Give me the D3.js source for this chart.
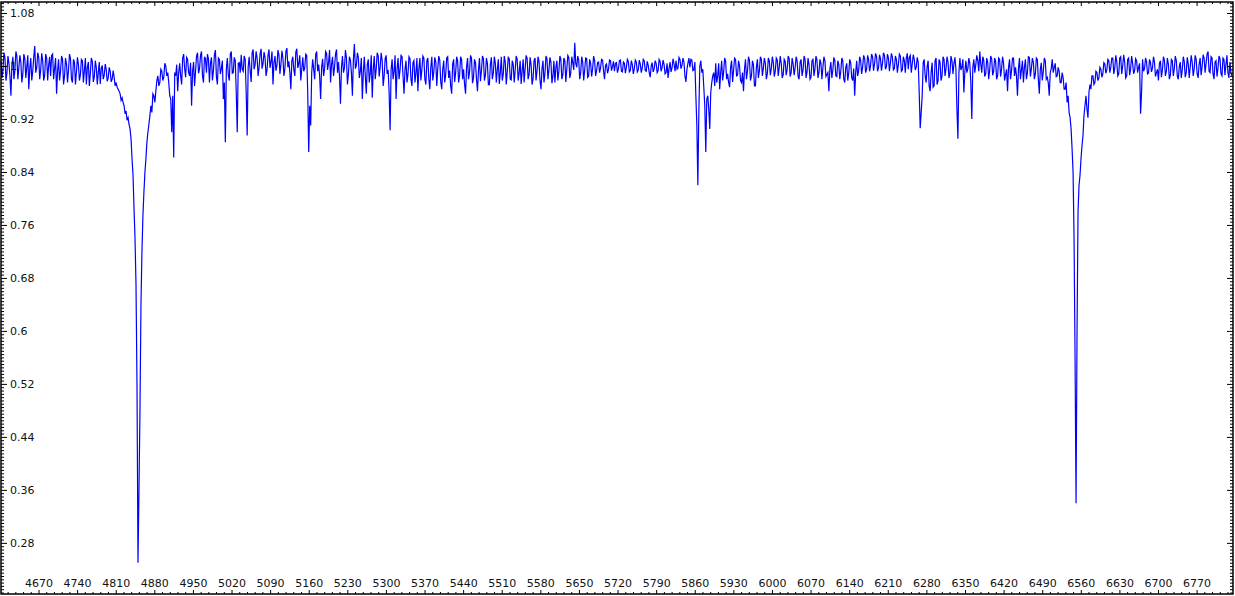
<!DOCTYPE html>
<html>
<head>
<meta charset="utf-8">
<script src="https://cdn.jsdelivr.net/npm/d3@7"></script>
<style>
  html, body { margin: 0; padding: 0; background: #ffffff; }
  svg { display: block; }
  .tick text { font-family: "DejaVu Sans", Verdana, sans-serif; font-size: 11px; fill: #111; }
</style>
</head>
<body>
<script>
// ---- data ----
const wavelengthStart = 4602;   // Å, first sample
const wavelengthStep = 1.8;     // Å between samples
const flux = [
  1.008, 0.982, 0.995, 1.020, 1.012, 0.978, 0.990, 1.015, 1.004, 0.985, 0.955, 1.002, 1.014, 0.980, 0.993, 1.022, 1.015, 0.980, 0.998, 1.016,
  1.006, 0.975, 0.988, 1.018, 1.011, 0.982, 0.999, 1.016, 0.965, 0.996, 1.012, 0.978, 0.992, 1.014, 1.030, 0.990, 0.997, 1.020, 1.013, 0.980,
  0.994, 1.019, 1.008, 0.978, 0.986, 1.018, 1.012, 0.978, 1.001, 1.014, 0.985, 1.016, 1.018, 0.980, 0.996, 1.012, 0.958, 0.992, 1.010, 0.978,
  0.992, 1.015, 1.010, 0.972, 0.985, 1.012, 1.003, 0.975, 0.994, 1.018, 1.011, 0.980, 0.975, 1.010, 1.006, 0.972, 0.991, 1.013, 1.002, 0.978,
  0.987, 1.010, 1.008, 0.975, 0.993, 1.012, 0.972, 0.998, 1.006, 0.970, 0.989, 1.012, 1.007, 0.976, 0.984, 1.008, 0.998, 0.972, 0.990, 1.006,
  0.973, 0.996, 1.001, 0.980, 0.986, 1.003, 0.995, 0.977, 0.982, 0.998, 0.992, 0.976, 0.980, 0.993, 0.983, 0.970, 0.975, 0.968, 0.965, 0.962,
  0.958, 0.948, 0.952, 0.945, 0.940, 0.928, 0.932, 0.918, 0.922, 0.912, 0.905, 0.890, 0.860, 0.835, 0.785, 0.740, 0.670, 0.520, 0.250, 0.360,
  0.480, 0.640, 0.720, 0.775, 0.810, 0.840, 0.860, 0.885, 0.900, 0.912, 0.925, 0.940, 0.930, 0.958, 0.955, 0.945, 0.962, 0.978, 0.985, 0.970,
  0.975, 0.995, 0.992, 0.978, 0.983, 1.004, 1.000, 0.985, 0.990, 0.975, 0.955, 0.950, 0.900, 0.955, 0.862, 0.990, 0.985, 1.002, 0.962, 0.990,
  1.004, 0.985, 0.972, 1.012, 1.018, 0.996, 0.983, 1.013, 1.010, 0.990, 0.985, 1.005, 0.940, 0.992, 1.006, 0.970, 0.992, 1.015, 1.020, 0.989,
  0.996, 1.016, 1.022, 0.985, 0.975, 1.014, 1.011, 0.990, 1.018, 1.010, 0.975, 1.004, 1.013, 0.978, 0.993, 1.017, 1.024, 0.984, 0.972, 1.012,
  1.010, 0.988, 0.996, 1.008, 0.950, 0.975, 0.885, 0.995, 1.012, 0.986, 0.978, 1.018, 1.022, 0.989, 0.990, 1.013, 1.008, 0.960, 0.900, 1.004,
  1.005, 0.990, 1.017, 0.995, 0.992, 1.015, 1.010, 0.960, 0.895, 0.998, 1.014, 0.993, 0.976, 1.020, 1.025, 0.995, 1.002, 1.022, 1.012, 0.985,
  0.998, 1.018, 1.026, 0.996, 1.004, 1.021, 1.013, 0.985, 0.994, 1.016, 1.025, 0.997, 1.006, 1.022, 0.972, 1.005, 1.015, 0.993, 1.001, 1.024,
  1.017, 0.988, 1.003, 1.023, 1.012, 0.985, 0.996, 1.022, 1.027, 0.998, 1.007, 0.990, 0.965, 1.008, 1.014, 0.994, 0.985, 1.021, 1.026, 0.997,
  1.004, 1.016, 0.978, 0.995, 1.013, 0.992, 0.997, 1.018, 1.016, 0.960, 0.870, 0.940, 0.910, 0.990, 1.010, 0.995, 0.980, 1.017, 1.022, 0.992,
  1.002, 0.985, 0.950, 0.998, 1.011, 0.985, 0.996, 1.022, 1.019, 0.994, 1.005, 1.024, 0.975, 1.003, 1.014, 0.985, 0.998, 1.018, 1.025, 0.990,
  1.006, 0.985, 0.943, 0.998, 1.015, 0.990, 0.997, 1.024, 1.012, 0.972, 0.988, 1.014, 1.009, 0.990, 0.955, 1.010, 1.033, 0.996, 1.001, 1.020,
  1.013, 0.982, 0.992, 1.012, 0.950, 0.990, 1.014, 0.985, 0.958, 1.002, 1.010, 0.975, 0.990, 1.016, 0.952, 0.995, 1.015, 0.980, 0.996, 1.020,
  1.015, 0.984, 0.999, 1.020, 1.008, 0.970, 0.985, 1.011, 1.016, 0.988, 0.994, 0.960, 0.903, 0.995, 1.010, 0.980, 0.992, 1.016, 0.950, 0.995,
  1.012, 0.980, 0.994, 1.016, 1.014, 0.985, 0.958, 0.995, 1.008, 0.975, 0.988, 1.014, 1.011, 0.980, 0.970, 1.005, 1.008, 0.975, 0.990, 1.012,
  0.962, 0.996, 1.012, 0.978, 0.995, 1.015, 1.012, 0.980, 0.972, 1.008, 1.012, 0.980, 0.965, 0.998, 1.014, 0.978, 0.991, 1.013, 1.006, 0.970,
  0.996, 1.015, 1.009, 0.976, 0.965, 0.995, 1.008, 0.975, 0.987, 1.012, 1.014, 0.982, 0.993, 0.970, 0.958, 1.003, 1.010, 0.976, 0.990, 1.014,
  1.008, 0.975, 0.986, 1.014, 1.010, 0.980, 0.995, 0.972, 0.958, 0.998, 1.012, 0.980, 0.991, 1.016, 1.012, 0.974, 0.982, 1.010, 1.005, 0.980,
  0.962, 0.994, 1.012, 0.977, 0.993, 1.015, 1.011, 0.978, 0.986, 1.012, 1.004, 0.972, 0.972, 1.002, 1.013, 0.980, 0.990, 1.014, 1.004, 0.975,
  0.995, 1.010, 0.973, 0.990, 1.014, 0.978, 0.988, 1.015, 1.006, 0.972, 0.992, 1.013, 1.011, 0.980, 0.979, 1.008, 1.003, 0.975, 0.994, 1.015,
  1.010, 0.978, 0.990, 1.008, 0.973, 0.992, 1.010, 0.975, 0.996, 1.016, 1.012, 0.980, 0.987, 1.013, 1.002, 0.972, 0.981, 1.008, 1.012, 0.978,
  0.993, 1.014, 1.007, 0.978, 0.965, 0.996, 1.008, 0.975, 0.989, 1.015, 1.011, 0.980, 0.995, 1.013, 1.006, 0.974, 0.985, 1.008, 0.975, 0.998,
  1.008, 0.978, 0.992, 1.015, 1.010, 0.980, 0.987, 1.012, 1.008, 0.976, 0.996, 1.016, 1.013, 0.982, 0.990, 1.014, 1.005, 0.994, 1.035, 1.004,
  0.998, 1.015, 1.009, 0.980, 0.990, 1.014, 1.006, 0.978, 0.994, 1.012, 1.011, 0.983, 0.985, 1.010, 1.004, 0.984, 0.996, 1.015, 1.008, 0.985,
  0.993, 1.005, 1.006, 0.990, 0.997, 1.010, 1.009, 0.992, 0.980, 1.001, 1.003, 0.989, 0.995, 1.009, 1.008, 0.993, 0.999, 1.007, 0.992, 1.004,
  1.005, 0.990, 0.996, 1.008, 1.009, 0.992, 0.991, 1.006, 1.004, 0.989, 0.998, 1.010, 1.007, 0.991, 0.993, 1.008, 1.002, 0.988, 0.996, 1.009,
  1.006, 0.991, 0.994, 1.009, 1.003, 0.990, 0.997, 1.010, 1.008, 0.993, 0.992, 1.007, 1.001, 0.990, 0.983, 1.000, 1.005, 0.991, 0.996, 1.008,
  1.004, 0.990, 0.993, 1.010, 1.007, 0.992, 0.998, 1.009, 1.002, 0.988, 0.990, 1.004, 0.982, 0.996, 1.006, 0.991, 0.997, 1.011, 1.003, 0.992,
  1.008, 0.995, 0.997, 1.013, 1.010, 0.996, 1.001, 1.012, 1.006, 0.985, 0.976, 0.995, 1.004, 1.012, 0.998, 1.010, 1.009, 0.993, 0.994, 1.006,
  0.955, 0.910, 0.820, 0.930, 1.000, 1.008, 0.990, 0.995, 0.968, 0.940, 0.870, 0.950, 0.955, 0.935, 0.905, 0.960, 0.975, 0.985, 0.990, 0.970,
  1.004, 0.975, 0.985, 1.004, 0.965, 0.990, 1.008, 0.978, 0.991, 1.012, 1.007, 0.980, 0.988, 0.975, 0.968, 0.998, 1.008, 0.976, 0.993, 1.012,
  1.010, 0.985, 0.986, 1.008, 1.000, 0.978, 0.975, 0.990, 0.962, 0.995, 1.010, 0.980, 0.992, 1.014, 1.009, 0.978, 0.985, 1.008, 1.002, 0.970,
  0.970, 0.998, 1.010, 0.982, 0.993, 1.014, 1.010, 0.985, 0.997, 1.012, 1.004, 0.980, 0.988, 1.012, 1.008, 0.986, 0.996, 1.014, 1.006, 0.984,
  0.992, 1.012, 1.009, 0.985, 0.998, 1.015, 1.004, 0.982, 0.987, 1.010, 1.007, 0.986, 0.995, 1.015, 1.011, 0.984, 0.990, 1.012, 1.003, 0.986,
  0.997, 1.014, 1.008, 0.984, 0.980, 1.006, 1.010, 0.985, 0.994, 1.015, 1.010, 0.982, 0.991, 1.012, 1.002, 0.980, 0.983, 1.008, 1.010, 0.985,
  0.996, 1.015, 1.009, 0.982, 0.990, 1.010, 1.004, 0.980, 0.998, 1.014, 1.008, 0.984, 0.987, 0.990, 0.962, 0.995, 1.006, 0.982, 0.994, 1.013,
  1.008, 0.985, 0.984, 1.008, 1.002, 0.980, 0.992, 1.012, 1.008, 0.980, 0.975, 0.998, 1.004, 0.978, 0.989, 1.010, 1.005, 0.982, 0.978, 0.996,
  0.955, 0.990, 1.008, 0.985, 0.993, 1.014, 1.009, 0.988, 0.998, 1.016, 1.012, 0.990, 0.995, 1.016, 1.010, 0.992, 1.001, 1.018, 1.014, 0.993,
  1.003, 1.019, 1.015, 0.992, 0.997, 1.017, 1.011, 0.993, 1.004, 1.020, 1.016, 0.995, 0.999, 1.018, 1.012, 0.992, 1.005, 1.019, 1.013, 0.994,
  0.996, 1.015, 1.010, 0.990, 1.002, 1.018, 1.015, 0.992, 0.994, 1.014, 1.008, 0.990, 1.012, 1.019, 0.995, 1.013, 1.016, 0.990, 1.003, 1.017,
  1.010, 0.994, 0.998, 1.013, 1.006, 0.960, 0.906, 0.930, 0.955, 1.005, 1.010, 0.985, 0.975, 0.999, 1.008, 0.970, 0.962, 0.990, 1.005, 0.968,
  0.970, 1.008, 1.012, 0.972, 0.978, 1.010, 1.006, 0.978, 0.985, 1.014, 1.010, 0.985, 0.996, 1.014, 1.006, 0.982, 0.990, 1.015, 1.008, 0.988,
  1.004, 1.013, 0.995, 0.935, 0.890, 0.990, 1.012, 0.994, 0.998, 1.010, 0.960, 0.992, 1.008, 0.990, 0.996, 1.012, 1.004, 0.975, 0.920, 0.998,
  1.010, 0.990, 1.002, 1.016, 1.008, 0.992, 1.022, 1.003, 0.990, 1.014, 1.009, 0.984, 0.988, 1.012, 1.006, 0.980, 0.994, 1.015, 1.011, 0.986,
  0.992, 1.012, 1.007, 0.980, 0.985, 1.012, 1.010, 0.984, 0.996, 1.014, 1.004, 0.978, 0.987, 0.995, 0.962, 0.998, 1.010, 0.980, 0.993, 1.012,
  1.012, 0.985, 0.998, 0.985, 0.955, 0.996, 1.012, 0.980, 0.994, 1.008, 0.975, 0.998, 1.010, 0.980, 0.990, 1.014, 1.013, 0.984, 0.996, 1.012,
  1.006, 0.980, 0.988, 1.012, 1.010, 0.980, 0.958, 0.995, 1.005, 0.978, 0.992, 1.012, 1.008, 0.980, 0.983, 0.975, 0.955, 0.990, 0.996, 1.010,
  0.990, 0.998, 1.004, 0.984, 0.985, 0.998, 0.992, 0.975, 0.975, 0.990, 0.982, 0.965, 0.965, 0.975, 0.945, 0.955, 0.930, 0.922, 0.905, 0.875,
  0.840, 0.740, 0.560, 0.340, 0.600, 0.780, 0.820, 0.835, 0.860, 0.880, 0.895, 0.925, 0.940, 0.955, 0.935, 0.922, 0.960, 0.972, 0.965, 0.985,
  0.985, 0.972, 0.975, 0.992, 0.990, 0.978, 0.982, 0.998, 0.995, 0.983, 0.988, 1.005, 1.003, 0.989, 0.994, 1.010, 1.008, 0.990, 0.998, 1.012,
  1.012, 0.988, 0.997, 1.016, 1.007, 0.985, 0.988, 1.012, 1.014, 0.988, 1.000, 1.017, 1.006, 0.982, 0.985, 1.010, 1.012, 0.986, 0.996, 1.015,
  1.004, 0.988, 0.993, 1.011, 1.008, 0.990, 0.998, 1.004, 0.928, 0.960, 1.010, 0.992, 0.996, 1.012, 1.007, 0.988, 0.989, 1.010, 1.005, 0.991,
  0.997, 1.014, 1.006, 0.984, 0.990, 0.995, 0.978, 1.004, 1.008, 0.983, 0.994, 1.014, 1.009, 0.985, 0.992, 1.012, 1.003, 0.980, 0.986, 1.010,
  1.008, 0.985, 0.996, 1.015, 1.008, 0.985, 0.980, 0.999, 1.006, 0.982, 0.994, 1.014, 1.007, 0.983, 0.990, 1.013, 1.004, 0.982, 0.998, 1.016,
  1.006, 0.985, 0.995, 1.016, 1.010, 0.988, 0.982, 1.003, 1.012, 0.986, 0.999, 1.017, 1.012, 0.990, 1.004, 1.018, 1.022, 0.992, 0.990, 1.014,
  1.012, 0.988, 0.980, 1.006, 1.008, 0.984, 0.997, 1.015, 1.011, 0.988, 0.985, 1.012, 1.010, 0.986, 1.002, 1.016, 0.990, 0.982, 1.006, 0.990, 0.985
];
const xTickLabels = [4670, 4740, 4810, 4880, 4950, 5020, 5090, 5160, 5230, 5300, 5370, 5440,
  5510, 5580, 5650, 5720, 5790, 5860, 5930, 6000, 6070, 6140, 6210, 6280, 6350, 6420,
  6490, 6560, 6630, 6700, 6770];
const yTickLabels = [0.28, 0.36, 0.44, 0.52, 0.6, 0.68, 0.76, 0.84, 0.92, 1, 1.08];

const spectrum = flux.map((f, i) => ({ w: wavelengthStart + i * wavelengthStep, f }));

// ---- layout ----
const W = 1235, H = 596;
const frame = { left: 1, top: 2, right: 1233, bottom: 594 };

const svg = d3.select("body").append("svg").attr("width", W).attr("height", H);

const x = d3.scaleLinear().domain([4602, 6836]).range([frame.left, frame.right]);
const y = d3.scaleLinear().domain([0.2028, 1.0966]).range([frame.bottom, frame.top]);

// spectrum line
svg.append("path")
  .datum(spectrum)
  .attr("fill", "none")
  .attr("stroke", "#0000ff")
  .attr("stroke-width", 1.2)
  .attr("stroke-linejoin", "miter")
  .attr("d", d3.line().x(d => x(d.w)).y(d => y(d.f)));

// minor tick values
const yMinor = d3.range(0.205, 1.0966, 0.005).filter(v => !yTickLabels.some(t => Math.abs(t - v) < 1e-6));
const xMinor = d3.range(4614, 6836, 14).filter(v => !xTickLabels.includes(v));

function styleAxis(g) {
  g.select(".domain").remove();
  g.selectAll(".tick line").attr("stroke", "#000").attr("stroke-width", 1);
}

// left axis (ticks inward, labels inside)
svg.append("g").attr("transform", `translate(${frame.left},0)`)
  .call(d3.axisRight(y).tickValues(yMinor).tickSize(3).tickFormat(""))
  .call(styleAxis);
svg.append("g").attr("transform", `translate(${frame.left},0)`)
  .call(d3.axisRight(y).tickValues(yTickLabels).tickSize(6).tickPadding(3).tickFormat(d => String(d)))
  .call(styleAxis);

// right axis
svg.append("g").attr("transform", `translate(${frame.right},0)`)
  .call(d3.axisLeft(y).tickValues(yMinor).tickSize(3).tickFormat(""))
  .call(styleAxis);
svg.append("g").attr("transform", `translate(${frame.right},0)`)
  .call(d3.axisLeft(y).tickValues(yTickLabels).tickSize(6).tickFormat(""))
  .call(styleAxis);

// bottom axis (ticks inward, labels inside)
svg.append("g").attr("transform", `translate(0,${frame.bottom})`)
  .call(d3.axisTop(x).tickValues(xMinor).tickSize(2).tickFormat(""))
  .call(styleAxis);
svg.append("g").attr("transform", `translate(0,${frame.bottom})`)
  .call(d3.axisTop(x).tickValues(xTickLabels).tickSize(4).tickPadding(3).tickFormat(d => String(d)))
  .call(styleAxis);

// top axis
svg.append("g").attr("transform", `translate(0,${frame.top})`)
  .call(d3.axisBottom(x).tickValues(xMinor).tickSize(2).tickFormat(""))
  .call(styleAxis);
svg.append("g").attr("transform", `translate(0,${frame.top})`)
  .call(d3.axisBottom(x).tickValues(xTickLabels).tickSize(4).tickFormat(""))
  .call(styleAxis);

// frame
svg.append("rect")
  .attr("x", frame.left).attr("y", frame.top)
  .attr("width", frame.right - frame.left).attr("height", frame.bottom - frame.top)
  .attr("fill", "none").attr("stroke", "#000").attr("stroke-width", 1.5);
</script>
</body>
</html>
